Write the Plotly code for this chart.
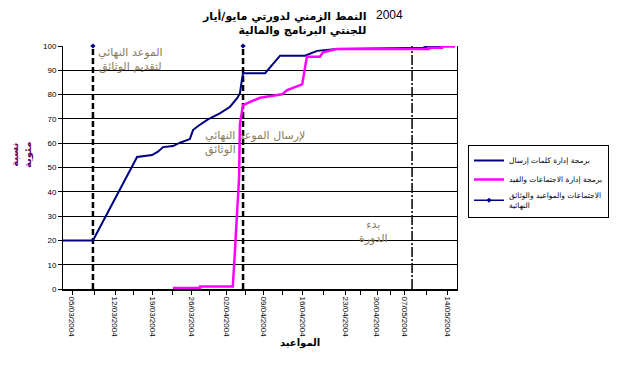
import plotly.graph_objects as go

# ---- data (timeline position 0..100 across the date axis, value in %) ----
tick_pos = [2.3, 8.0, 13.2, 18.0, 22.8, 27.8, 32.7, 37.2, 41.6, 46.2, 50.8,
            55.8, 60.9, 66.2, 71.6, 75.6, 79.7, 83.2, 86.8, 92.3, 97.7]
tick_labels = ["05/03/2004", "", "12/03/2004", "", "19/03/2004", "", "26/03/2004", "",
               "02/04/2004", "", "09/04/2004", "", "16/04/2004", "", "23/04/2004", "",
               "30/04/2004", "", "07/05/2004", "", "14/05/2004"]

blue_x = [0, 7.6, 18.8, 22.6, 24.1, 25.4, 27.9, 29.7, 32.2, 33.0, 34.3, 36.8,
          39.8, 42.4, 44.2, 44.9, 45.4, 45.7, 51.3, 55.1, 61.4, 64.5, 69.5,
          91.4, 92.9, 99.5]
blue_y = [20, 20, 54.3, 55.1, 56.5, 58.4, 58.8, 60.2, 61.7, 65.4, 67.1, 69.8,
          72.3, 75, 78.5, 80.5, 86, 88.8, 88.8, 96, 96, 98, 98.8,
          99.3, 100, 100]

mag_x = [27.9, 34.8, 34.8, 43.1, 43.4, 44.2, 44.7, 44.9, 45.4, 45.7, 47.5, 50.0,
         55.6, 56.9, 60.7, 61.9, 65.2, 66.0, 69.5, 92.9, 92.9, 96.2, 96.2, 99.5]
mag_y = [0.4, 0.4, 1.0, 1.0, 9, 30, 46, 68, 72, 75.7, 77, 78.7,
         80.1, 81.9, 84.2, 95.6, 95.6, 97.4, 98.8, 98.8, 99.3, 99.3, 99.8, 99.8]

deadline_docs_x = 7.6      # الموعد النهائي لتقديم الوثائق
deadline_send_x = 45.7     # الموعد النهائي لإرسال الوثائق
session_start_x = 88.6     # بدء الدورة

series_names = ["برمجة إدارة كلمات إرسال",
                "برمجة إدارة الاجتماعات والقيد",
                "الاجتماعات والمواعيد والوثائق<br>النهائية"]

# the page body adds an 8px offset; size the figure so it fills the window
OFF = 8
W, H = 617 - OFF, 374 - OFF
# plot area in window pixels: left 63, right 457, top 46, bottom 289
L, T = 63 - OFF, 46 - OFF
R, B = W - (457 - OFF), H - (289 - OFF)
PW, PH = W - L - R, H - T - B


def px(x):
    return (x - OFF - L) / PW


def py(y):
    return (H - B - (y - OFF)) / PH


AR = "DejaVu Sans"
LAT = "Liberation Sans, Arial"

fig = go.Figure()

# vertical deadline lines
for xv, dash, w in [(deadline_docs_x, "6px,3px", 2.5),
                    (deadline_send_x, "6px,3px", 2.5),
                    (session_start_x, "10px,2px,2px,2px", 1.5)]:
    fig.add_trace(go.Scatter(x=[xv, xv], y=[0, 100], mode="lines",
                             line=dict(color="black", width=w, dash=dash),
                             showlegend=False, hoverinfo="skip", cliponaxis=False))

fig.add_trace(go.Scatter(x=blue_x, y=blue_y, mode="lines", name=series_names[0],
                         line=dict(color="#000080", width=2)))
fig.add_trace(go.Scatter(x=mag_x, y=mag_y, mode="lines", name=series_names[1],
                         line=dict(color="#FF00FF", width=2.5)))
fig.add_trace(go.Scatter(x=[deadline_docs_x, None, deadline_send_x], y=[100, None, 100],
                         mode="lines+markers", name=series_names[2], connectgaps=False,
                         line=dict(color="#000080", width=1.5), cliponaxis=False,
                         marker=dict(color="#000080", size=4, symbol="diamond")))

ann_col = "#8a7a5a"
P = dict(xref="paper", yref="paper", showarrow=False)
annotations = [
    dict(x=px(368), y=py(23), text="<b>النمط الزمني لدورتي مايو/أيار<br>للجنتي البرنامج والمالية</b>",
         xanchor="right", yanchor="middle", align="right",
         font=dict(family=AR, size=11, color="black"), **P),
    dict(x=px(374), y=py(15), text="2004", xanchor="left", yanchor="middle",
         font=dict(family=LAT, size=12, color="black"), **P),
    dict(x=px(130), y=py(60), text="الموعد النهائي<br>لتقديم الوثائق",
         xanchor="center", yanchor="middle", align="center",
         font=dict(family=AR, size=11, color=ann_col), **P),
    dict(x=px(203), y=py(143), text="لإرسال الموعد النهائي<br>الوثائق",
         xanchor="left", yanchor="middle", align="left",
         font=dict(family=AR, size=11, color=ann_col), **P),
    dict(x=px(373), y=py(231), text="بدء<br>الدورة",
         xanchor="center", yanchor="middle", align="center",
         font=dict(family=AR, size=11, color=ann_col), **P),
    dict(x=px(300), y=py(343), text="<b>المواعيد</b>", xanchor="center", yanchor="middle",
         font=dict(family=AR, size=10, color="black"), **P),
    dict(x=px(21), y=py(155), text="<b>نسبة<br>مئوية</b>", textangle=-90,
         xanchor="center", yanchor="middle",
         font=dict(family=AR, size=10, color="#660066"), **P),
]

fig.update_layout(
    width=W, height=H,
    margin=dict(l=L, r=R, t=T, b=B, pad=0, autoexpand=False),
    paper_bgcolor="white", plot_bgcolor="white",
    annotations=annotations,
    showlegend=True,
    legend=dict(x=px(468), y=py(145), xanchor="left", yanchor="top",
                bordercolor="black", borderwidth=1, bgcolor="white",
                font=dict(family=AR, size=7.5, color="black"),
                itemwidth=30, tracegroupgap=0),
    xaxis=dict(range=[0, 100], tickmode="array", tickvals=tick_pos, ticktext=tick_labels,
               tickangle=90, ticks="outside", ticklen=4, tickcolor="black",
               tickfont=dict(family=LAT, size=8, color="black"), automargin=False,
               showgrid=False, zeroline=False, showline=True, linecolor="black",
               linewidth=2),
    yaxis=dict(range=[0, 100], tickmode="linear", tick0=0, dtick=10,
               ticks="outside", ticklen=4, tickcolor="black", automargin=False,
               tickfont=dict(family=LAT, size=8, color="black"),
               showgrid=True, gridcolor="black", gridwidth=1, zeroline=False,
               showline=True, linecolor="black", linewidth=1, mirror=True),
)

fig.write_html("out.html")
